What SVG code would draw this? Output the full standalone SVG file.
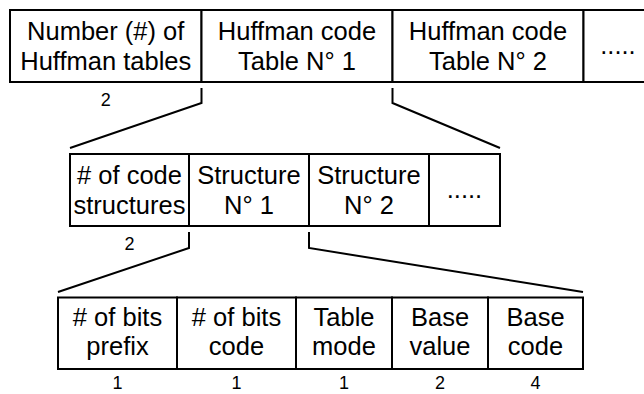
<svg xmlns="http://www.w3.org/2000/svg" width="644" height="394" viewBox="0 0 644 394">
  <style>
    .box { fill: #ffffff; stroke: #000000; stroke-width: 2; }
    .lbl { font-family: "Liberation Sans", Arial, sans-serif; font-size: 25.5px; fill: #000000; text-anchor: middle; }
    .num { font-family: "Liberation Sans", Arial, sans-serif; font-size: 18px; fill: #000000; text-anchor: middle; }
    .link { fill: none; stroke: #000000; stroke-width: 2; stroke-linejoin: miter; }
  </style>
  <rect x="0" y="0" width="644" height="394" fill="#ffffff"/>

  <!-- Level 1: file header -->
  <g id="num-tables">
    <rect class="box" x="10" y="10" width="191.5" height="72"/>
    <text class="lbl" x="105.75" y="40">Number (#) of</text>
    <text class="lbl" x="105.75" y="70">Huffman tables</text>
    <text class="num" x="105.75" y="106">2</text>
  </g>
  <g id="table-1">
    <rect class="box" x="201.5" y="10" width="191" height="72"/>
    <text class="lbl" x="297" y="40">Huffman code</text>
    <text class="lbl" x="297" y="70">Table N° 1</text>
  </g>
  <g id="table-2">
    <rect class="box" x="392.5" y="10" width="191" height="72"/>
    <text class="lbl" x="488" y="40">Huffman code</text>
    <text class="lbl" x="488" y="70">Table N° 2</text>
  </g>
  <g id="table-more">
    <rect class="box" x="583.5" y="10" width="70" height="72"/>
    <text class="lbl" x="618" y="54">.....</text>
  </g>

  <!-- Level 2: one Huffman table -->
  <g id="num-structures">
    <rect class="box" x="70" y="154" width="119" height="72"/>
    <text class="lbl" x="129.5" y="184"># of code</text>
    <text class="lbl" x="129.5" y="214">structures</text>
    <text class="num" x="129.5" y="250">2</text>
  </g>
  <g id="structure-1">
    <rect class="box" x="189" y="154" width="120" height="72"/>
    <text class="lbl" x="249" y="184">Structure</text>
    <text class="lbl" x="249" y="214">N° 1</text>
  </g>
  <g id="structure-2">
    <rect class="box" x="309" y="154" width="120" height="72"/>
    <text class="lbl" x="369" y="184">Structure</text>
    <text class="lbl" x="369" y="214">N° 2</text>
  </g>
  <g id="structure-more">
    <rect class="box" x="429" y="154" width="71" height="72"/>
    <text class="lbl" x="464.5" y="198">.....</text>
  </g>

  <!-- Level 3: one code structure -->
  <g id="bits-prefix">
    <rect class="box" x="58" y="297.5" width="119" height="71.5"/>
    <text class="lbl" x="117.5" y="326"># of bits</text>
    <text class="lbl" x="117.5" y="355">prefix</text>
    <text class="num" x="117.5" y="389">1</text>
  </g>
  <g id="bits-code">
    <rect class="box" x="177" y="297.5" width="119" height="71.5"/>
    <text class="lbl" x="236.5" y="326"># of bits</text>
    <text class="lbl" x="236.5" y="355">code</text>
    <text class="num" x="236.5" y="389">1</text>
  </g>
  <g id="table-mode">
    <rect class="box" x="296" y="297.5" width="96" height="71.5"/>
    <text class="lbl" x="344" y="326">Table</text>
    <text class="lbl" x="344" y="355">mode</text>
    <text class="num" x="344" y="389">1</text>
  </g>
  <g id="base-value">
    <rect class="box" x="392" y="297.5" width="96" height="71.5"/>
    <text class="lbl" x="440" y="326">Base</text>
    <text class="lbl" x="440" y="355">value</text>
    <text class="num" x="440" y="389">2</text>
  </g>
  <g id="base-code">
    <rect class="box" x="488" y="297.5" width="95" height="71.5"/>
    <text class="lbl" x="535.5" y="326">Base</text>
    <text class="lbl" x="535.5" y="355">code</text>
    <text class="num" x="535.5" y="389">4</text>
  </g>

  <!-- Expansion brackets between levels -->
  <g id="connectors">
    <polyline class="link" points="201.5,88 201.5,103 70,148"/>
    <polyline class="link" points="392.5,88 392.5,103 500,148"/>
    <polyline class="link" points="189,232 189,248 58,292"/>
    <polyline class="link" points="309,232 309,248 583,292"/>
  </g>
</svg>
